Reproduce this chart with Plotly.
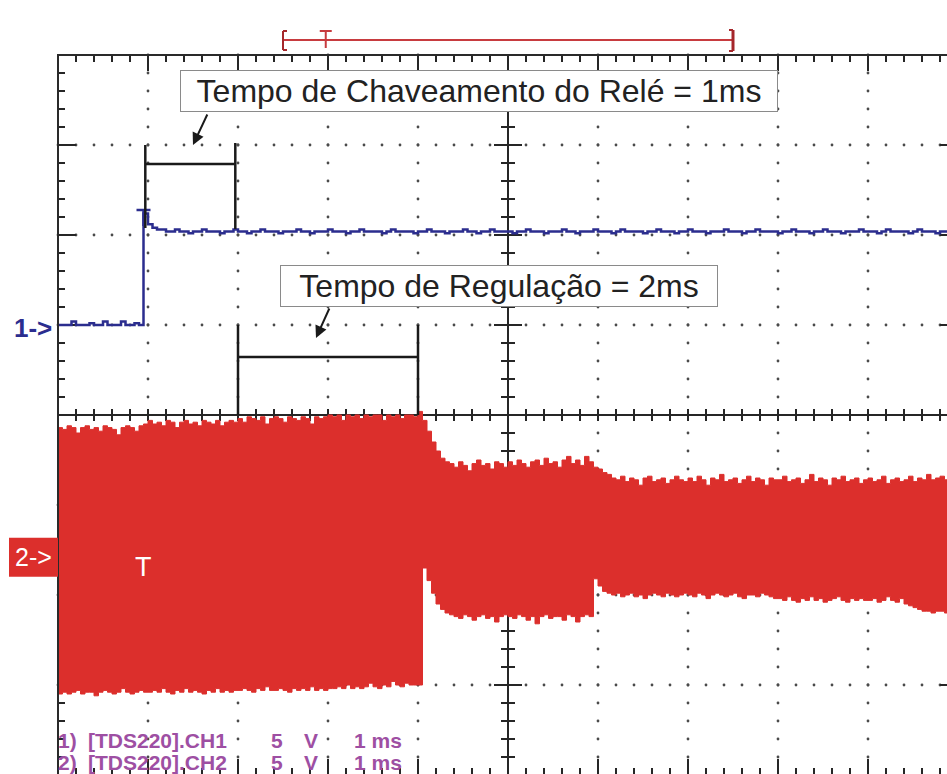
import numpy as np
import plotly.graph_objects as go

# ---------------------------------------------------------------------------
# Acquisition (TDS220): 1 ms/div, 5 V/div on both channels, 0.05 ms per sample
# ---------------------------------------------------------------------------
t_ms = np.round(np.arange(200) * 0.05, 2)

# CH1 - relay command (V)
ch1_volts = [
    0.0, 0.0, 0.0, 0.2, 0.0, 0.0, 0.0, 0.1, 0.0, 0.0, 0.2, 0.0, 0.0, 0.0, 0.2, 0.0, 0.0, 0.1, 0.0, 6.2,
    5.6, 5.4, 5.3, 5.3, 5.2, 5.2, 5.3, 5.2, 5.2, 5.1, 5.2, 5.2, 5.3, 5.2, 5.2, 5.2, 5.1, 5.2, 5.2, 5.3,
    5.2, 5.2, 5.1, 5.2, 5.2, 5.3, 5.2, 5.2, 5.2, 5.1, 5.2, 5.2, 5.2, 5.3, 5.2, 5.2, 5.1, 5.2, 5.2, 5.2,
    5.3, 5.2, 5.2, 5.2, 5.1, 5.2, 5.2, 5.3, 5.2, 5.2, 5.2, 5.2, 5.1, 5.2, 5.3, 5.2, 5.2, 5.2, 5.2, 5.1,
    5.2, 5.2, 5.3, 5.2, 5.2, 5.2, 5.1, 5.2, 5.2, 5.2, 5.3, 5.2, 5.2, 5.1, 5.2, 5.2, 5.3, 5.2, 5.2, 5.2,
    5.2, 5.1, 5.2, 5.2, 5.3, 5.2, 5.2, 5.2, 5.1, 5.2, 5.2, 5.2, 5.3, 5.2, 5.2, 5.1, 5.2, 5.2, 5.2, 5.3,
    5.2, 5.2, 5.2, 5.1, 5.2, 5.3, 5.2, 5.2, 5.2, 5.2, 5.1, 5.2, 5.2, 5.3, 5.2, 5.2, 5.2, 5.1, 5.2, 5.2,
    5.3, 5.2, 5.2, 5.2, 5.1, 5.2, 5.2, 5.2, 5.3, 5.2, 5.2, 5.2, 5.1, 5.2, 5.2, 5.3, 5.2, 5.2, 5.2, 5.2,
    5.1, 5.2, 5.2, 5.3, 5.2, 5.2, 5.2, 5.1, 5.2, 5.2, 5.3, 5.2, 5.2, 5.2, 5.1, 5.2, 5.2, 5.2, 5.3, 5.2,
    5.2, 5.2, 5.1, 5.2, 5.3, 5.2, 5.2, 5.2, 5.2, 5.1, 5.2, 5.3, 5.2, 5.2, 5.2, 5.1, 5.2, 5.2, 5.3, 5.2,
]

# CH2 - regulated output, upper and lower envelope of the waveform (V)
ch2_upper_volts = [
    7.2, 7.1, 7.3, 7.2, 6.9, 7.2, 7.3, 7.1, 7.2, 7.0, 7.3, 7.2, 7.1, 6.8, 7.2, 7.3, 7.2, 7.0, 7.3, 7.4,
    7.6, 7.4, 7.5, 7.3, 7.6, 7.5, 7.2, 7.5, 7.6, 7.4, 7.5, 7.3, 7.6, 7.5, 7.4, 7.6, 7.3, 7.5, 7.6, 7.5,
    7.7, 7.5, 7.8, 7.7, 7.6, 7.8, 7.4, 7.7, 7.8, 7.7, 7.5, 7.8, 7.7, 7.6, 7.8, 7.7, 7.4, 7.8, 7.7, 7.8,
    7.9, 7.8, 7.9, 7.6, 7.9, 7.8, 7.9, 7.7, 7.9, 7.8, 7.9, 7.9, 7.6, 7.9, 7.8, 7.9, 7.7, 7.9, 7.9, 7.8,
    8.1, 7.6, 7.0, 6.4, 5.9, 5.5, 5.3, 5.2, 5.0, 5.3, 5.1, 4.8, 5.2, 5.4, 5.1, 5.2, 4.9, 5.3, 5.2, 5.0,
    5.3, 5.1, 5.4, 5.2, 5.0, 5.3, 5.4, 5.1, 5.5, 5.2, 5.3, 5.0, 5.4, 5.6, 5.2, 5.4, 5.1, 5.6, 5.3, 5.0,
    4.9, 4.7, 4.6, 4.4, 4.3, 4.5, 4.2, 4.4, 4.3, 4.0, 4.4, 4.5, 4.2, 4.3, 4.4, 4.1, 4.3, 4.5, 4.3, 4.2,
    4.4, 4.2, 4.5, 4.3, 4.0, 4.4, 4.3, 4.6, 4.2, 4.3, 4.4, 4.1, 4.3, 4.5, 4.2, 4.4, 4.3, 4.0, 4.4, 4.3,
    4.3, 4.5, 4.2, 4.3, 4.4, 4.1, 4.3, 4.6, 4.2, 4.4, 4.3, 4.0, 4.4, 4.3, 4.5, 4.2, 4.3, 4.4, 4.1, 4.3,
    4.4, 4.2, 4.3, 4.5, 4.1, 4.3, 4.4, 4.2, 4.3, 4.5, 4.2, 4.4, 4.3, 4.6, 4.3, 4.4, 4.5, 4.3, 4.4, 4.3,
]
ch2_lower_volts = [
    -7.6, -7.5, -7.6, -7.5, -7.4, -7.6, -7.5, -7.5, -7.7, -7.5, -7.4, -7.5, -7.6, -7.5, -7.3, -7.5, -7.6, -7.5, -7.4, -7.5,
    -7.5, -7.4, -7.5, -7.3, -7.5, -7.6, -7.4, -7.5, -7.3, -7.5, -7.4, -7.5, -7.6, -7.4, -7.5, -7.3, -7.5, -7.4, -7.5, -7.4,
    -7.4, -7.3, -7.4, -7.5, -7.3, -7.4, -7.2, -7.4, -7.4, -7.3, -7.4, -7.5, -7.3, -7.4, -7.3, -7.4, -7.2, -7.4, -7.3, -7.4,
    -7.3, -7.3, -7.2, -7.3, -7.1, -7.3, -7.2, -7.3, -7.2, -7.0, -7.2, -7.3, -7.1, -7.2, -6.9, -7.1, -7.2, -7.0, -7.1, -7.1,
    -7.1, -0.6, -1.3, -2.0, -2.6, -2.9, -3.1, -3.2, -3.3, -3.4, -3.2, -3.3, -3.5, -3.3, -3.2, -3.4, -3.3, -3.6, -3.3, -3.2,
    -3.3, -3.4, -3.2, -3.3, -3.5, -3.3, -3.7, -3.3, -3.2, -3.4, -3.3, -3.3, -3.5, -3.2, -3.3, -3.6, -3.3, -3.2, -3.3, -1.2,
    -1.6, -1.9, -2.0, -2.1, -2.0, -2.2, -2.1, -2.0, -2.2, -2.1, -2.3, -2.1, -2.0, -2.1, -2.2, -2.0, -2.1, -2.2, -2.1, -2.0,
    -2.1, -2.2, -2.0, -2.1, -2.3, -2.1, -2.0, -2.1, -2.2, -2.1, -2.0, -2.2, -2.3, -2.1, -2.1, -2.2, -2.0, -2.1, -2.2, -2.3,
    -2.3, -2.4, -2.2, -2.4, -2.5, -2.3, -2.4, -2.2, -2.4, -2.3, -2.5, -2.4, -2.3, -2.2, -2.4, -2.5, -2.3, -2.4, -2.3, -2.4,
    -2.4, -2.3, -2.5, -2.4, -2.2, -2.4, -2.5, -2.3, -2.6, -2.7, -2.8, -2.9, -3.0, -3.0, -3.1, -3.0, -3.0, -3.1, -3.0, -3.0,
]

VOLTS_PER_DIV = 5.0
CH1_OFFSET_DIV = 5.0
CH2_OFFSET_DIV = 2.42
TRIGGER_MS = 0.95
RELAY_START_MS = 0.97
RELAY_TIME_MS = 1.0          # "Tempo de Chaveamento do Relé = 1ms"
REGULATION_START_MS = 2.0
REGULATION_TIME_MS = 2.0     # "Tempo de Regulação = 2ms"

# ---------------------------------------------------------------------------
# Screen geometry: 10 x 8 divisions, 90 px per division
# ---------------------------------------------------------------------------
W, H = 947, 774
DIV_PX = 90.0
LEFT_PX, TOP_PX = 58, 55


def sx(px):
    return (px - LEFT_PX) / DIV_PX


def sy(py):
    return 8 - (py - TOP_PX) / DIV_PX


def to_div(volts, offset):
    return offset + np.asarray(volts, dtype=float) / VOLTS_PER_DIV


BLUE = "#2b2d8e"
RED = "#dc2f2c"
DARK_RED = "#a5272b"
GRID = "#4a4a4a"
INK = "#1a1a1a"
PURPLE = "#9e4fa3"
FONT = "Liberation Sans, Arial, sans-serif"

fig = go.Figure()

# --- graticule dots -------------------------------------------------------
dot_x, dot_y = [], []
for gx in range(1, 10):
    if gx == 5:
        continue
    ys = np.arange(0, 41) * 0.2
    dot_x += [gx] * len(ys)
    dot_y += list(ys)
for gy in [1, 2, 3, 5, 6, 7]:
    xs = np.arange(0, 51) * 0.2
    dot_x += list(xs)
    dot_y += [gy] * len(xs)
fig.add_trace(go.Scatter(x=dot_x, y=dot_y, mode="markers",
                         marker=dict(size=2.8, color=GRID), hoverinfo="skip"))

# --- centre crosshair and border ticks ------------------------------------
lx, ly = [], []


def seg(x0, y0, x1, y1):
    lx.extend([x0, x1, None])
    ly.extend([y0, y1, None])


minor = 7 / DIV_PX
major = 16 / DIV_PX
seg(0, 4, 10, 4)
seg(5, 0, 5, 8)
for k in range(1, 50):
    t = k * 0.2
    seg(t, 4 - 6 / DIV_PX, t, 4 + 6 / DIV_PX)
    ln = major if k % 5 == 0 else minor
    seg(t, 8, t, 8 - ln)
    seg(t, 0, t, ln)
for k in range(1, 40):
    v = k * 0.2
    half = (14 if k % 5 == 0 else 7) / DIV_PX
    seg(5 - half, v, 5 + half, v)
    ln = (18 / DIV_PX) if k % 5 == 0 else minor
    seg(0, v, ln, v)
    seg(10, v, 10 - ln, v)
fig.add_trace(go.Scatter(x=lx, y=ly, mode="lines",
                         line=dict(color="#262626", width=2), hoverinfo="skip"))

# --- CH2 envelope (filled) --------------------------------------------------
fig.add_trace(go.Scatter(x=t_ms, y=to_div(ch2_lower_volts, CH2_OFFSET_DIV), mode="lines",
                         line=dict(color=RED, width=1, shape="hv"), hoverinfo="skip"))
fig.add_trace(go.Scatter(x=t_ms, y=to_div(ch2_upper_volts, CH2_OFFSET_DIV), mode="lines",
                         line=dict(color=RED, width=1, shape="hv"), fill="tonexty",
                         fillcolor=RED, hoverinfo="skip"))

# --- CH1 trace --------------------------------------------------------------
fig.add_trace(go.Scatter(x=t_ms, y=to_div(ch1_volts, CH1_OFFSET_DIV), mode="lines",
                         line=dict(color=BLUE, width=2.5, shape="hv"), hoverinfo="skip"))

shapes = []


def line_shape(x0, y0, x1, y1, color, width):
    shapes.append(dict(type="line", x0=x0, y0=y0, x1=x1, y1=y1, xref="x", yref="y",
                       line=dict(color=color, width=width), layer="above"))


# screen frame
shapes.append(dict(type="rect", x0=0, x1=10, y0=0, y1=8, xref="x", yref="y",
                   line=dict(color="#2a2a2a", width=2), layer="above"))

# trigger marker on CH1
trig_top = sy(210)
line_shape(TRIGGER_MS - 7 / DIV_PX, trig_top, TRIGGER_MS + 7 / DIV_PX, trig_top, BLUE, 2.5)
line_shape(TRIGGER_MS, trig_top, TRIGGER_MS, sy(226), BLUE, 2.5)

# timing brackets
b1_x0, b1_x1 = RELAY_START_MS, RELAY_START_MS + RELAY_TIME_MS
line_shape(b1_x0, sy(145), b1_x0, sy(228), INK, 2.5)
line_shape(b1_x1, sy(143), b1_x1, sy(229), INK, 2.5)
line_shape(b1_x0, sy(164), b1_x1, sy(164), INK, 2.5)
b2_x0, b2_x1 = REGULATION_START_MS, REGULATION_START_MS + REGULATION_TIME_MS
line_shape(b2_x0, sy(325), b2_x0, 4, INK, 2.5)
line_shape(b2_x1, sy(325), b2_x1, 4, INK, 2.5)
line_shape(b2_x0, sy(357), b2_x1, sy(357), INK, 2.5)

# record-window bar above the screen
bar_y = sy(40)
rec_l, rec_r = 2.5, 7.5
rec_t = rec_l + TRIGGER_MS / 10 * (rec_r - rec_l)
line_shape(rec_l, bar_y, rec_r, bar_y, "#c73b3f", 2)
line_shape(rec_l, sy(31), rec_l, sy(50), DARK_RED, 2)
line_shape(rec_l, sy(31), rec_l + 4 / DIV_PX, sy(31), DARK_RED, 2)
line_shape(rec_l, sy(50), rec_l + 4 / DIV_PX, sy(50), DARK_RED, 2)
line_shape(rec_r, sy(30), rec_r, sy(51), DARK_RED, 3)
line_shape(rec_r, sy(30), rec_r - 4 / DIV_PX, sy(30), DARK_RED, 2)
line_shape(rec_r, sy(51), rec_r - 4 / DIV_PX, sy(51), DARK_RED, 2)
line_shape(rec_t - 6 / DIV_PX, sy(31), rec_t + 6 / DIV_PX, sy(31), "#c73b3f", 2)
line_shape(rec_t, sy(31), rec_t, sy(48), "#c73b3f", 2)

# CH2 ground marker box
shapes.append(dict(type="rect", x0=sx(9), x1=0, y0=CH2_OFFSET_DIV - 0.217,
                   y1=CH2_OFFSET_DIV + 0.217, xref="x", yref="y",
                   fillcolor=RED, line=dict(width=0), layer="above"))

annotations = [
    # callout boxes
    dict(x=sx(479), y=sy(91), xref="x", yref="y", text="Tempo de Chaveamento do Relé = 1ms",
         showarrow=False, font=dict(family=FONT, size=32, color="#222222"),
         bgcolor="white", bordercolor="#8a8a8a", borderwidth=1, borderpad=0,
         width=596, height=40, align="center", valign="middle"),
    dict(x=sx(499), y=sy(286), xref="x", yref="y", text="Tempo de Regulação = 2ms",
         showarrow=False, font=dict(family=FONT, size=32, color="#222222"),
         bgcolor="white", bordercolor="#8a8a8a", borderwidth=1, borderpad=0,
         width=436, height=40, align="center", valign="middle"),
    # arrows
    dict(x=sx(193), y=sy(145), xref="x", yref="y", text="", showarrow=True,
         ax=15, ay=-32, arrowhead=2, arrowsize=1.2, arrowwidth=2, arrowcolor=INK),
    dict(x=sx(316), y=sy(338), xref="x", yref="y", text="", showarrow=True,
         ax=14, ay=-31, arrowhead=2, arrowsize=1.2, arrowwidth=2, arrowcolor=INK),
    # channel markers
    dict(x=sx(54), y=CH1_OFFSET_DIV - 0.03, xref="x", yref="y", text="<b>1-></b>",
         showarrow=False, xanchor="right", yanchor="middle",
         font=dict(family=FONT, size=26, color=BLUE)),
    dict(x=sx(33), y=CH2_OFFSET_DIV, xref="x", yref="y", text="2->",
         showarrow=False, xanchor="center", yanchor="middle",
         font=dict(family=FONT, size=25, color="white")),
    dict(x=TRIGGER_MS, y=CH2_OFFSET_DIV - 0.11, xref="x", yref="y", text="T",
         showarrow=False, xanchor="center", yanchor="middle",
         font=dict(family=FONT, size=27, color="white")),
]

# scope read-out lines
readout = [("1)", "[TDS220].CH1", sy(740)), ("2)", "[TDS220].CH2", sy(762))]
for num, name, yy in readout:
    for txt, px, anchor in [(num, 79, "right"), (name, 86, "left"), ("5", 269, "left"),
                            ("V", 302, "left"), ("1 ms", 352, "left")]:
        annotations.append(dict(x=sx(px), y=yy, xref="x", yref="y", text=f"<b>{txt}</b>",
                                showarrow=False, xanchor=anchor, yanchor="middle",
                                font=dict(family=FONT, size=21, color=PURPLE)))

fig.update_layout(
    width=W, height=H,
    margin=dict(l=0, r=0, t=0, b=0),
    paper_bgcolor="white", plot_bgcolor="white",
    showlegend=False,
    xaxis=dict(range=[sx(0), sx(W)], visible=False, fixedrange=True),
    yaxis=dict(range=[sy(H), sy(0)], visible=False, fixedrange=True),
    shapes=shapes,
    annotations=annotations,
)

fig.write_html("out.html")
